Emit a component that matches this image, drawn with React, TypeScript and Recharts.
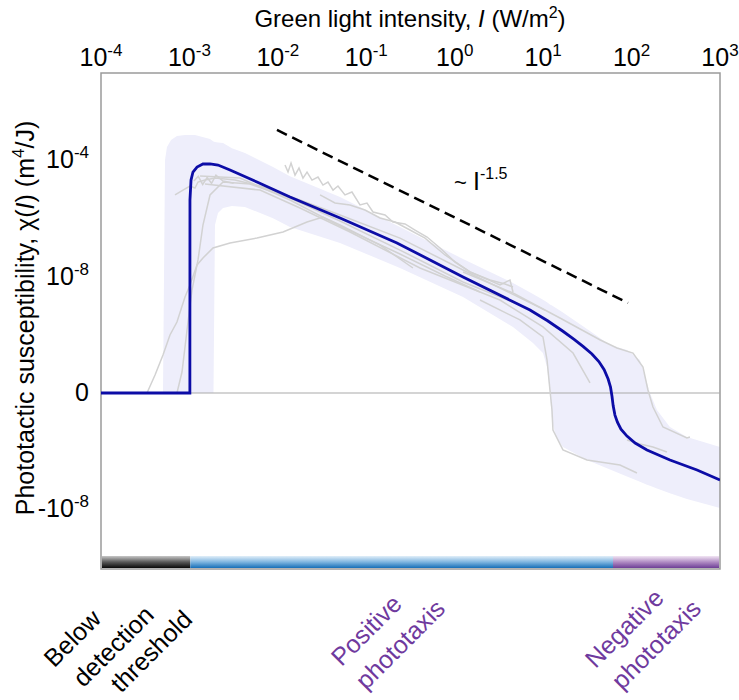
import React from "react";
import { ComposedChart, Line, Area, XAxis, YAxis, ReferenceLine, ReferenceArea } from "recharts";

// x values are log10 of intensity I (W/m^2); y values are on the chart's
// compressed symlog scale: 2 = 1e-4, 1 = 1e-8, 0 = 0, -1 = -1e-8
const X_TICKS = [-4, -3, -2, -1, 0, 1, 2, 3];
const Y_TICKS = [-1, 0, 1, 2];
const Y_LABELS: Record<number, [string, string]> = {
  2: ["10", "-4"],
  1: ["10", "-8"],
  0: ["0", ""],
  [-1]: ["-10", "-8"],
};

const meanLogI = [-4.0, -2.995, -2.994, -2.982, -2.96, -2.914, -2.847, -2.767, -2.677, -2.541, -2.236, -1.863, -1.297, -0.653, 0.094, 0.851, 1.05, 1.224, 1.35, 1.451, 1.552, 1.63, 1.69, 1.735, 1.762, 1.779, 1.792, 1.812, 1.84, 1.88, 1.948, 2.04, 2.174, 2.434, 2.74, 3.0];
const meanChi = [0, 0, 1.657, 1.828, 1.897, 1.94, 1.966, 1.966, 1.957, 1.914, 1.811, 1.682, 1.502, 1.288, 0.996, 0.712, 0.62, 0.53, 0.46, 0.4, 0.335, 0.27, 0.2, 0.12, 0.05, -0.03, -0.11, -0.19, -0.25, -0.31, -0.37, -0.43, -0.489, -0.575, -0.661, -0.747];

const bandLogI = [-3.299, -3.276, -3.254, -3.208, -3.141, -3.05, -2.937, -2.767, -2.728, -2.711, -2.677, -2.62, -2.519, -2.372, -2.055, -1.863, -1.297, -0.619, 0.094, 0.659, 0.885, 0.998, 1.044, 1.077, 1.1, 1.145, 1.224, 1.496, 1.756, 1.948, 2.095, 2.174, 2.208, 2.287, 2.434, 2.626, 3.0];
const bandLow = [0, 0, 0, 0, 0, 0, 0, 0, 0, 1.442, 1.545, 1.588, 1.605, 1.597, 1.5, 1.425, 1.288, 1.073, 0.824, 0.567, 0.429, 0.343, 0.223, 0, -0.232, -0.378, -0.464, -0.575, -0.656, -0.716, -0.762, -0.787, -0.797, -0.82, -0.86, -0.91, -0.987];
const bandHigh = [0, 2.0, 2.112, 2.172, 2.206, 2.215, 2.215, 2.18, 2.16, 2.155, 2.15, 2.146, 2.1, 2.06, 1.94, 1.86, 1.682, 1.425, 1.15, 0.944, 0.85, 0.8, 0.78, 0.76, 0.75, 0.73, 0.69, 0.55, 0.412, 0.369, 0.283, 0.086, 0, -0.146, -0.292, -0.378, -0.464];

// individual experiments (grey)
const traces: [number[], number[]][] = [
  [
    [-3.48, -3.389, -3.299, -3.22, -3.141, -3.05, -2.994, -2.914, -2.847, -2.733, -2.541, -2.236, -1.942, -1.67, -1.49, -1.297, -0.845, -0.472],
    [0, 0.155, 0.326, 0.498, 0.609, 0.824, 0.927, 1.099, 1.159, 1.245, 1.288, 1.33, 1.382, 1.468, 1.511, 1.442, 1.27, 1.073],
  ],
  [
    [-3.141, -3.084, -3.027, -2.971, -2.903, -2.847, -2.767, -2.62, -2.315, -1.863, -1.297, -0.619, 0.094, 0.738],
    [0, 0.18, 0.541, 0.884, 1.142, 1.442, 1.7, 1.811, 1.794, 1.674, 1.476, 1.227, 0.953, 0.755],
  ],
  [
    [-3.163, -3.073, -2.994, -2.937, -2.903, -2.824, -2.711, -2.485, -2.202, -1.75, -1.297, -0.619, 0.094, 1.021],
    [1.7, 1.742, 1.777, 1.76, 1.811, 1.828, 1.845, 1.828, 1.777, 1.657, 1.528, 1.33, 1.056, 0.712],
  ],
  [
    [-2.95, -2.9, -2.85, -2.8, -2.75, -2.7, -2.62, -2.5],
    [1.82, 1.86, 1.79, 1.85, 1.8, 1.87, 1.82, 1.8],
  ],
  [
    [-1.919, -1.885, -1.851, -1.806, -1.761, -1.716, -1.67, -1.614, -1.546, -1.49, -1.433, -1.376, -1.32, -1.241, -1.162, -1.071, -0.992, -0.924, -0.788, -0.698, -0.562, -0.449, -0.313, -0.166, 0.003, 0.173, 0.399, 0.569, 0.659],
    [1.957, 1.897, 1.974, 1.871, 1.931, 1.845, 1.897, 1.828, 1.854, 1.785, 1.811, 1.742, 1.777, 1.7, 1.725, 1.614, 1.631, 1.554, 1.528, 1.468, 1.451, 1.399, 1.339, 1.245, 1.124, 1.039, 0.97, 0.936, 0.91],
  ],
  [
    [-1.523, -1.354, -1.184, -1.015, -0.845, -0.675, -0.506, -0.336, -0.11, 0.173, 0.512, 0.625, 0.659],
    [1.7, 1.631, 1.614, 1.571, 1.502, 1.468, 1.399, 1.33, 1.185, 1.039, 0.927, 0.97, 0.867],
  ],
  [
    [0.094, 0.659, 1.19, 1.646, 1.835, 2.016, 2.129, 2.185, 2.242, 2.355, 2.626, 2.66],
    [1.039, 0.858, 0.644, 0.455, 0.386, 0.343, 0.223, 0.026, -0.12, -0.292, -0.386, -0.378],
  ],
  [
    [0.286, 0.738, 0.998, 1.044, 1.077, 1.1, 1.111, 1.224, 1.496, 1.869, 2.061],
    [0.798, 0.627, 0.481, 0.283, 0.026, -0.146, -0.318, -0.489, -0.575, -0.618, -0.687],
  ],
  [
    [-2.824, -2.202, -1.75, -1.184, -0.393, 0.512, 0.998, 1.338, 1.53],
    [1.794, 1.742, 1.588, 1.382, 1.073, 0.798, 0.567, 0.343, 0.086],
  ],
  [
    [-2.88, -2.428, -1.863, -1.297, -0.619, -0.11, 0.286],
    [1.863, 1.845, 1.657, 1.433, 1.193, 1.004, 0.867],
  ],
  [
    [1.948, 2.095, 2.242, 2.4],
    [-0.403, -0.438, -0.464, -0.506],
  ],
];

const slopeLogI = [-2.01, 1.96];
const slopeChi = [2.258, 0.773];

// coloured bar under the curve
const regions = [
  { from: -3.99, to: -2.99, fill: "url(#barBlack)" },
  { from: -2.99, to: 1.79, fill: "url(#barBlue)" },
  { from: 1.79, to: 2.99, fill: "url(#barPurple)" },
];

const zip = (xs: number[], ys: number[]) => xs.map((x, i) => ({ x, y: ys[i] }));
const meanData = zip(meanLogI, meanChi);
const slopeData = zip(slopeLogI, slopeChi);
const bandData = bandLogI.map((x, i) => ({ x, band: [bandLow[i], bandHigh[i]] }));

const Y_MIN = -1.511;
const Y_MAX = 2.747;
const FONT = "'Liberation Sans', Arial, sans-serif";
const PURPLE = "#6f3a9e";

const XTick = (props: any) => {
  const { x, y, payload } = props;
  return (
    <text x={x} y={y + 1} textAnchor="middle" fontSize={25} fill="#000" fontFamily={FONT}>
      <tspan>10</tspan>
      <tspan dy={-10} fontSize={17}>{payload.value}</tspan>
    </text>
  );
};

const YTick = (props: any) => {
  const { x, y, payload } = props;
  const [base, sup] = Y_LABELS[payload.value] || ["", ""];
  return (
    <text x={x - 4} y={y + 8} textAnchor="end" fontSize={25} fill="#000" fontFamily={FONT}>
      <tspan>{base}</tspan>
      {sup && <tspan dy={-10} fontSize={17}>{sup}</tspan>}
    </text>
  );
};

const labelStyle = { fontSize: 25, fontFamily: FONT };

export default function App() {
  return (
    <div style={{ position: "absolute", left: 0, top: 0, width: 739, height: 700, background: "#fff" }}>
      <ComposedChart width={739} height={700} margin={{ top: 43, right: 19, bottom: 131, left: 31 }}>
        <defs>
          <linearGradient id="barBlack" x1="0" y1="0" x2="0" y2="1">
            <stop offset="0" stopColor="#c8c8c8" />
            <stop offset="0.5" stopColor="#5a5a5a" />
            <stop offset="1" stopColor="#0a0a0a" />
          </linearGradient>
          <linearGradient id="barBlue" x1="0" y1="0" x2="0" y2="1">
            <stop offset="0" stopColor="#e2eff9" />
            <stop offset="0.5" stopColor="#7fb6e0" />
            <stop offset="1" stopColor="#166fb8" />
          </linearGradient>
          <linearGradient id="barPurple" x1="0" y1="0" x2="0" y2="1">
            <stop offset="0" stopColor="#f2e6f4" />
            <stop offset="0.5" stopColor="#b18dc4" />
            <stop offset="1" stopColor="#6e3f96" />
          </linearGradient>
        </defs>
        <XAxis
          type="number"
          dataKey="x"
          orientation="top"
          domain={[-4, 3]}
          ticks={X_TICKS}
          interval={0}
          height={30}
          axisLine={false}
          tickLine={false}
          tick={<XTick />}
          allowDataOverflow
        />
        <YAxis
          type="number"
          domain={[Y_MIN, Y_MAX]}
          ticks={Y_TICKS}
          interval={0}
          width={70}
          axisLine={false}
          tickLine={false}
          tick={<YTick />}
          allowDataOverflow
        />
        <Area
          data={bandData}
          dataKey="band"
          type="linear"
          stroke="none"
          fill="#eeeefb"
          fillOpacity={1}
          isAnimationActive={false}
        />
        <ReferenceLine y={0} stroke="#aaaaaa" strokeWidth={1.2} />
        {traces.map(([xs, ys], i) => (
          <Line
            key={i}
            data={zip(xs, ys)}
            dataKey="y"
            type="linear"
            stroke="#d2d2d2"
            strokeWidth={1.5}
            dot={false}
            isAnimationActive={false}
          />
        ))}
        <Line
          data={meanData}
          dataKey="y"
          type="linear"
          stroke="#0c0ca6"
          strokeWidth={2.8}
          dot={false}
          isAnimationActive={false}
        />
        <Line
          data={slopeData}
          dataKey="y"
          type="linear"
          stroke="#000"
          strokeWidth={2.5}
          strokeDasharray="11 6"
          dot={false}
          isAnimationActive={false}
        />
        {regions.map((r) => (
          <ReferenceArea
            key={r.from}
            x1={r.from}
            x2={r.to}
            y1={-1.502}
            y2={-1.399}
            fill={r.fill}
            fillOpacity={1}
            stroke="none"
          />
        ))}
        <ReferenceArea x1={-4} x2={3} y1={Y_MIN} y2={Y_MAX} fill="none" stroke="#9a9a9a" strokeWidth={1.5} />
      </ComposedChart>
      <svg width={739} height={700} style={{ position: "absolute", left: 0, top: 0, pointerEvents: "none" }}>
        <text x={410} y={27} textAnchor="middle" fontSize={24} fontFamily={FONT}>
          Green light intensity, <tspan fontStyle="italic">I</tspan> (W/m<tspan dy={-9} fontSize={16}>2</tspan>
          <tspan dy={9}>)</tspan>
        </text>
        <text
          transform="translate(34,318) rotate(-90)"
          textAnchor="middle"
          fontSize={25}
          fontFamily={FONT}
        >
          Phototactic susceptibility, χ(<tspan fontStyle="italic">I</tspan>) (m<tspan dy={-10} fontSize={17}>4</tspan>
          <tspan dy={10}>/J)</tspan>
        </text>
        <text x={454} y={190} fontSize={22} fontFamily={FONT}>
          ~ <tspan fontSize={25}>I</tspan>
          <tspan dy={-11} fontSize={16}>-1.5</tspan>
        </text>
        <g style={labelStyle}>
          <text transform="translate(72,638) rotate(-45)" textAnchor="middle" dominantBaseline="central">Below</text>
          <text transform="translate(113,646) rotate(-45)" textAnchor="middle" dominantBaseline="central">detection</text>
          <text transform="translate(151,651) rotate(-45)" textAnchor="middle" dominantBaseline="central">threshold</text>
          <text transform="translate(366,630) rotate(-45)" textAnchor="middle" dominantBaseline="central" fill={PURPLE}>Positive</text>
          <text transform="translate(400,644) rotate(-45)" textAnchor="middle" dominantBaseline="central" fill={PURPLE}>phototaxis</text>
          <text transform="translate(624,628) rotate(-45)" textAnchor="middle" dominantBaseline="central" fill={PURPLE}>Negative</text>
          <text transform="translate(656,644) rotate(-45)" textAnchor="middle" dominantBaseline="central" fill={PURPLE}>phototaxis</text>
        </g>
      </svg>
    </div>
  );
}
